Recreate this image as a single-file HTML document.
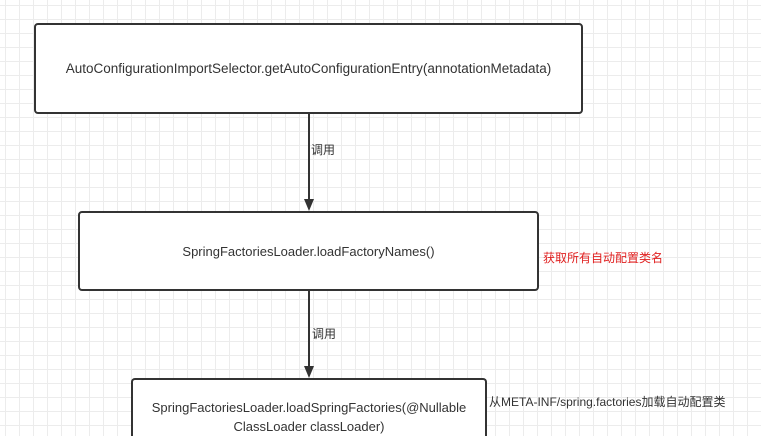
<!DOCTYPE html>
<html><head><meta charset="utf-8"><style>
html,body{margin:0;padding:0;width:761px;height:436px;overflow:hidden}
body{position:relative;font-family:"Liberation Sans","Noto Sans CJK SC",sans-serif;
background-color:#fff;
background-image:linear-gradient(#ececec 1px,transparent 1px),linear-gradient(90deg,#ececec 1px,transparent 1px);
background-size:14px 14px;background-position:5px 5px;}
.box{position:absolute;border:2px solid #333;border-radius:4px;background:#fff;box-sizing:border-box;display:flex;align-items:center;justify-content:center;text-align:center;font-size:13px;color:#333;line-height:19px}
.t{position:absolute;font-size:12px;color:#333;white-space:nowrap}
</style></head><body>
<div class="box" style="left:34px;top:23px;width:549px;height:91px;font-size:13.5px">AutoConfigurationImportSelector.getAutoConfigurationEntry(annotationMetadata)</div>
<div class="box" style="left:78px;top:211px;width:461px;height:80px">SpringFactoriesLoader.loadFactoryNames()</div>
<div class="box" style="left:131px;top:378px;width:356px;height:58px;border-bottom:none;border-radius:4px 4px 0 0;align-items:flex-start;padding-top:18px">SpringFactoriesLoader.loadSpringFactories(@Nullable<br>ClassLoader classLoader)</div>
<svg width="761" height="436" style="position:absolute;left:0;top:0">
<line x1="309" y1="114" x2="309" y2="200" stroke="#333" stroke-width="2"/>
<polygon points="304,199 314,199 309,211" fill="#333"/>
<line x1="309" y1="291" x2="309" y2="367" stroke="#333" stroke-width="2"/>
<polygon points="304,366 314,366 309,378" fill="#333"/>
</svg>
<div class="t" style="left:311px;top:141px">调用</div>
<div class="t" style="left:312px;top:325px">调用</div>
<div class="t" style="left:543px;top:249px;color:#e02020">获取所有自动配置类名</div>
<div class="t" style="left:489px;top:393px">从META-INF/spring.factories加载自动配置类</div>
</body></html>
